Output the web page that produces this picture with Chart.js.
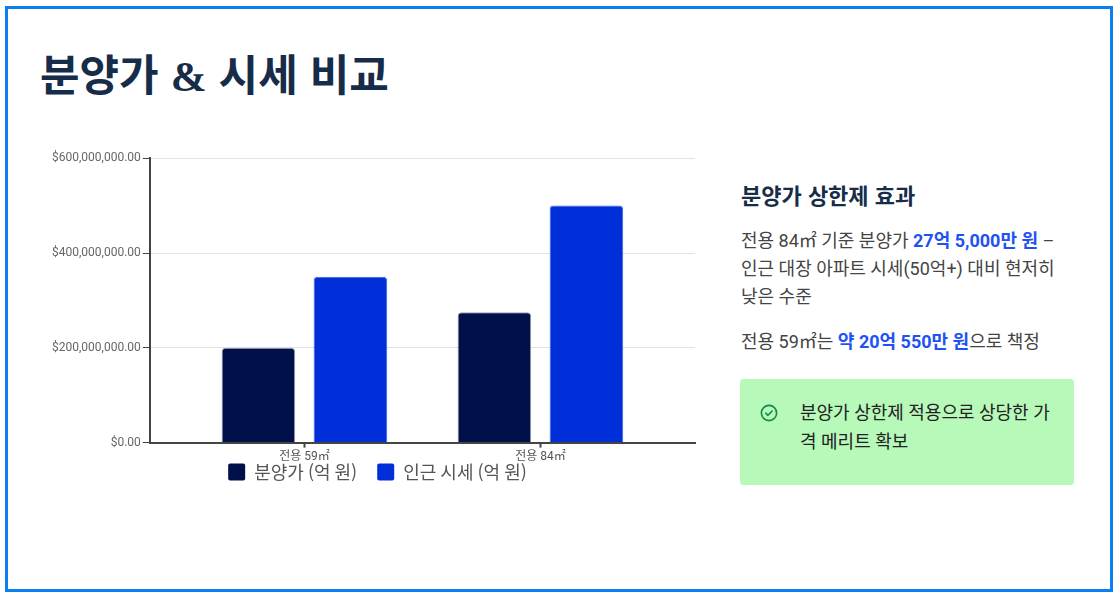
<!DOCTYPE html>
<html lang="ko">
<head>
<meta charset="utf-8">
<script src="https://cdn.jsdelivr.net/npm/chart.js@4.4.1/dist/chart.umd.min.js"></script>
<style>
  html, body { margin: 0; padding: 0; background: #fff; }
  body { width: 1119px; height: 596px; position: relative; overflow: hidden;
         font-family: Roboto, "Noto Sans CJK KR", sans-serif; }
  .frame { position: absolute; left: 5px; top: 6px; width: 1102px; height: 580px;
           border: 3px solid #0a80f0; }
  h1 { position: absolute; left: 40px; top: 40px; margin: 0; font-size: 43px; font-weight: 700;
       color: #172c48; font-family: "Noto Sans CJK KR", sans-serif; line-height: 64px; white-space: nowrap; }
  h1 .amp { font-family: "Liberation Serif", "DejaVu Serif", serif; }
  #chartBox { position: absolute; left: 50px; top: 149px; width: 650px; height: 365px; }
  .side { position: absolute; left: 741px; top: 177px; width: 334px; }
  .side h2 { margin: 0; font-size: 22px; font-weight: 700; color: #172c48; line-height: 34px;
             font-family: "Noto Sans CJK KR", sans-serif; }
  .side p { margin: 16px 0 0 0; font-size: 18px; line-height: 28px; color: #444; word-break: keep-all; }
  .side p + p { margin-top: 17px; }
  .side b { color: #1f52f2; font-weight: 700; }
  .note { position: absolute; left: 740px; top: 379px; width: 334px; height: 106px;
          background: #b6f9b9; border-radius: 4px; }
  .note .txt { position: absolute; left: 60px; top: 19px; width: 258px; font-size: 18px;
               line-height: 29px; color: #222; }
</style>
</head>
<body>
<div class="frame"></div>
<h1>분양가 <span class="amp">&amp;</span> 시세 비교</h1>
<div id="chartBox"><canvas id="priceChart"></canvas></div>

<div class="side">
  <h2>분양가 상한제 효과</h2>
  <p>전용 84㎡ 기준 분양가 <b>27억 5,000만 원</b> – 인근 대장 아파트 시세(50억+) 대비 현저히 낮은 수준</p>
  <p>전용 59㎡는 <b>약 20억 550만 원</b>으로 책정</p>
</div>
<div class="note">
  <svg style="position:absolute;left:20px;top:25px" width="18" height="18" viewBox="0 0 18 18">
    <circle cx="9" cy="9" r="7.6" fill="none" stroke="#12894a" stroke-width="1.6"/>
    <path d="M5.8 9.2 L8 11.3 L12.2 7" fill="none" stroke="#12894a" stroke-width="1.6" stroke-linecap="round" stroke-linejoin="round"/>
  </svg>
  <div class="txt">분양가 상한제 적용으로 상당한 가격 메리트 확보</div>
</div>

<script>
// data
const categories = ['전용 59㎡', '전용 84㎡'];
const salePrice = [200000000, 275000000];     // 분양가
const marketPrice = [350000000, 500000000];   // 인근 시세
const seriesNames = ['분양가 (억 원)', '인근 시세 (억 원)'];
const yTicks = [0, 200000000, 400000000, 600000000];

Chart.defaults.font.family = "Roboto, 'Noto Sans CJK KR', sans-serif";
Chart.defaults.color = '#666';

const money = v => '$' + v.toLocaleString('en-US', {minimumFractionDigits: 2, maximumFractionDigits: 2});
const pts = arr => arr.map((v, i) => ({x: i, y: v}));

// legend sits tight under the x labels, pull it up past its own padding
const legendPad = 20;
const legendShift = {
  id: 'legendShift',
  afterLayout(c) {
    const l = c.legend;
    l.top -= legendPad + 3;
    l.bottom -= legendPad + 3;
    l.left += 5;
    l.right += 5;
  }
};

const ctx = document.getElementById('priceChart').getContext('2d');
const chart = new Chart(ctx, {
  type: 'bar',
  data: {
    datasets: [
      {label: seriesNames[0], data: pts(salePrice), backgroundColor: '#00114a',
       borderColor: '#9aa2b8', borderWidth: 1, borderRadius: 4, borderSkipped: 'bottom'},
      {label: seriesNames[1], data: pts(marketPrice), backgroundColor: '#002ed8',
       borderColor: '#3a5fe8', borderWidth: 1, borderRadius: 4, borderSkipped: 'bottom'}
    ]
  },
  plugins: [legendShift],
  options: {
    responsive: true,
    maintainAspectRatio: false,
    animation: false,
    categoryPercentage: 0.78,
    barPercentage: 0.8,
    layout: {padding: {left: 0, right: 5, top: 0, bottom: 0}},
    plugins: {
      legend: {
        position: 'bottom',
        labels: {boxWidth: 17, boxHeight: 17, padding: legendPad, color: '#555', useBorderRadius: true, borderRadius: 2,
                 font: {size: 18, family: "'Noto Sans CJK KR', sans-serif"},
                 generateLabels: c => Chart.defaults.plugins.legend.labels.generateLabels(c)
                   .map(l => Object.assign(l, {lineWidth: 0}))}
      },
      tooltip: {enabled: false}
    },
    scales: {
      x: {
        type: 'linear',
        offset: false,
        min: -0.655,
        max: 1.655,
        afterBuildTicks: axis => { axis.ticks = categories.map((_, i) => ({value: i})); },
        ticks: {callback: v => categories[v] ?? '', font: {size: 12}, color: '#555', padding: 2,
                maxRotation: 0, autoSkip: false},
        grid: {offset: false, drawOnChartArea: false, tickLength: 5, tickColor: '#444', tickWidth: 2},
        border: {color: '#444', width: 2}
      },
      y: {
        min: 0,
        max: 600000000,
        afterBuildTicks: axis => { axis.ticks = yTicks.map(v => ({value: v})); },
        ticks: {callback: v => money(v), font: {size: 12}, color: '#666', padding: 2},
        grid: {color: '#e2e2e2', tickColor: '#444', tickLength: 7},
        border: {color: '#444', width: 2}
      }
    }
  }
});
</script>
</body>
</html>
